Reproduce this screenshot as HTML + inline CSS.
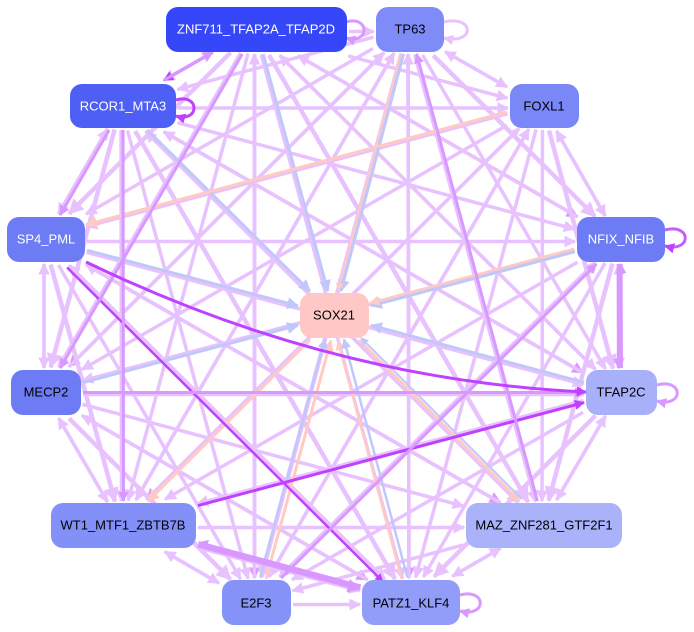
<!DOCTYPE html>
<html><head><meta charset="utf-8"><style>
html,body{margin:0;padding:0;background:#fff;width:694px;height:632px;overflow:hidden}
svg{display:block}
text{font-family:"Liberation Sans",sans-serif;font-size:13px;text-anchor:middle;dominant-baseline:central}
</style></head><body>
<svg id="s" width="694" height="632" viewBox="0 0 694 632">
<defs>
<marker id="m0" viewBox="0 0 10 10" refX="9" refY="5" markerWidth="3.4" markerHeight="3.4" orient="auto"><path d="M0,0L10,5L0,10z" fill="#e8c2ff"/></marker>
<marker id="m1" viewBox="0 0 10 10" refX="9" refY="5" markerWidth="3.4" markerHeight="3.4" orient="auto"><path d="M0,0L10,5L0,10z" fill="#d898ff"/></marker>
<marker id="m2" viewBox="0 0 10 10" refX="9" refY="5" markerWidth="3.4" markerHeight="3.4" orient="auto"><path d="M0,0L10,5L0,10z" fill="#c040ff"/></marker>
<marker id="m3" viewBox="0 0 10 10" refX="9" refY="5" markerWidth="4" markerHeight="4" orient="auto"><path d="M0,0L10,5L0,10z" fill="#c0c8fa"/></marker>
<marker id="m4" viewBox="0 0 10 10" refX="9" refY="5" markerWidth="4" markerHeight="4" orient="auto"><path d="M0,0L10,5L0,10z" fill="#ffcac2"/></marker>
</defs>
<g id="edges"></g>
<g fill="none" stroke-width="3">
<path d="M86,262 Q330,380 586,392" stroke="#c040ff" marker-end="url(#m2)"/>
</g>
<g id="loops" fill="none" stroke-width="3">
<path d="M444,22 C475,15 475,45 444,38" stroke="#e8c2ff" marker-end="url(#m0)"/>
<path d="M346,22 C370,15 370,45 346,38" stroke="#d898ff" marker-end="url(#m1)"/>
<path d="M176,100 C200,93 200,123 176,116" stroke="#c040ff" marker-end="url(#m2)"/>
<path d="M665,230 C692,223 692,253 665,246" stroke="#c060ff" marker-end="url(#m2)"/>
<path d="M657,385 C684,378 684,408 657,401" stroke="#d898ff" marker-end="url(#m1)"/>
<path d="M460,595 C487,588 487,618 460,611" stroke="#d898ff" marker-end="url(#m1)"/>
</g>
<g id="nodes">
<rect x="166" y="7" width="181" height="45" rx="12" fill="#3547f8"/><text x="256" y="29" fill="#fff">ZNF711_TFAP2A_TFAP2D</text>
<rect x="376" y="7" width="68" height="45" rx="12" fill="#7f8cf8"/><text x="410" y="29">TP63</text>
<rect x="70" y="84" width="106" height="44" rx="12" fill="#4e5ff5"/><text x="123" y="106" fill="#fff">RCOR1_MTA3</text>
<rect x="510" y="84" width="69" height="44" rx="12" fill="#7a87f7"/><text x="544" y="106">FOXL1</text>
<rect x="7" y="217" width="78" height="45" rx="12" fill="#6d7cf5"/><text x="46" y="239" fill="#fff">SP4_PML</text>
<rect x="577" y="217" width="88" height="45" rx="12" fill="#6d7cf5"/><text x="621" y="239" fill="#fff">NFIX_NFIB</text>
<rect x="300" y="293" width="69" height="45" rx="12" fill="#ffc8c6"/><text x="334" y="315">SOX21</text>
<rect x="11" y="370" width="70" height="45" rx="12" fill="#6d7cf5"/><text x="46" y="392">MECP2</text>
<rect x="586" y="370" width="71" height="45" rx="12" fill="#a8b0fa"/><text x="621" y="392">TFAP2C</text>
<rect x="51" y="503" width="145" height="45" rx="12" fill="#8390f8"/><text x="123" y="525">WT1_MTF1_ZBTB7B</text>
<rect x="466" y="503" width="156" height="45" rx="12" fill="#aab2fa"/><text x="544" y="525">MAZ_ZNF281_GTF2F1</text>
<rect x="222" y="580" width="69" height="45" rx="12" fill="#8592f8"/><text x="256" y="603">E2F3</text>
<rect x="362" y="580" width="98" height="45" rx="12" fill="#929cf9"/><text x="411" y="603">PATZ1_KLF4</text>
</g>
</svg>
<script>
var N={Z:[166,7,347,52],T:[376,7,444,52],R:[70,84,176,128],F:[510,84,579,128],S:[7,217,85,262],
N:[577,217,665,262],X:[300,293,369,338],M:[11,370,81,415],C:[586,370,657,415],W:[51,503,196,548],
A:[466,503,622,548],E:[222,580,291,625],P:[362,580,460,625]};
function c(k){var r=N[k];return[(r[0]+r[2])/2,(r[1]+r[3])/2];}
function clip(k,dx,dy){var r=N[k],w=(r[2]-r[0])/2+2,h=(r[3]-r[1])/2+2;return Math.min(dx?w/Math.abs(dx):1e9,dy?h/Math.abs(dy):1e9);}
var g=document.getElementById('edges');var ns='http://www.w3.org/2000/svg';
var cols=['#e8c2ff','#d898ff','#c040ff','#c0c8fa','#ffcac2'];
function edge(a,b,ci,w,off){var p=c(a),q=c(b);var o=off||0;var dx=q[0]-p[0],dy=q[1]-p[1];var L=Math.hypot(dx,dy);var nx=-dy/L*o,ny=dx/L*o;
var t1=clip(a,dx,dy),t2=clip(b,dx,dy);
var l=document.createElementNS(ns,'line');
l.setAttribute('x1',p[0]+dx*t1+nx);l.setAttribute('y1',p[1]+dy*t1+ny);
l.setAttribute('x2',q[0]-dx*t2+nx);l.setAttribute('y2',q[1]-dy*t2+ny);
l.setAttribute('stroke',cols[ci]);l.setAttribute('stroke-width',w||3);
l.setAttribute('marker-end','url(#m'+ci+')');g.appendChild(l);}
var ks=Object.keys(N).filter(function(k){return k!='X'});
for(var i=0;i<ks.length;i++)for(var j=i+1;j<ks.length;j++){
 var a=ks[i],b=ks[j];var s=(i*7+j*3)%5;
 edge(a,b,s==0?1:0,s==2?4.5:3.5,2);
 if(s<2)edge(b,a,0,3.5,-2);
}
['Z','T','R','N','M','C','S'].forEach(function(k){edge(k,'X',3,3);});
edge('F','S',4,3,4);edge('N','X',4,2.5,3);edge('X','W',4,3);edge('X','A',4,3);edge('E','X',4,3,3);edge('P','X',4,2.5,-3);edge('T','X',4,2,3);
edge('E','X',3,2.5,-3);edge('P','X',3,2.5,3);edge('A','X',3,2,3);
edge('Z','R',2,3,2);edge('R','Z',1,3,-2);edge('W','C',2,3);edge('S','P',2,2.5,5);edge('R','S',1,3);edge('R','W',1,3);
edge('E','N',1,3);edge('M','C',1,3);edge('W','P',1,4);edge('P','W',1,3,3);edge('Z','M',1,3);edge('A','T',1,3);edge('C','N',1,3);edge('N','C',1,3,3);
</script>
</body></html>
